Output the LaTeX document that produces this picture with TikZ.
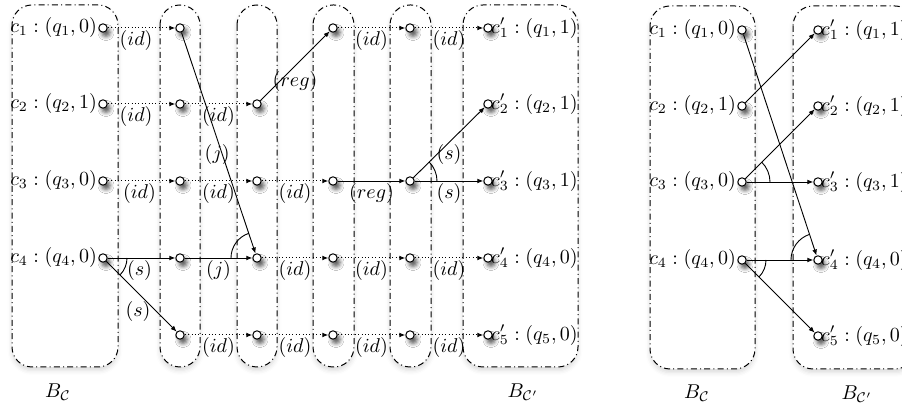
\documentclass[tikz,border=0pt]{standalone}
\usetikzlibrary{arrows.meta,shadows.blur}
\begin{document}
\begin{tikzpicture}[x=0.5pt,y=0.5pt,
  st/.style={circle,draw,fill=white,inner sep=0pt,minimum size=4.2pt,line width=0.5pt,
    blur shadow={shadow xshift=1.5pt,shadow yshift=-2.2pt,shadow blur radius=2pt,shadow opacity=65}},
  grp/.style={draw,line width=0.5pt,dash pattern=on 3pt off 1.6pt on 0.5pt off 1.6pt,rounded corners=10pt,fill=white,
    blur shadow={shadow xshift=0pt,shadow yshift=-1.8pt,shadow blur radius=2.2pt,shadow opacity=14}},
  tip/.style={-{Latex[length=3pt,width=2.4pt]}},
  idl/.style={tip,line width=0.5pt,dash pattern=on 0.5pt off 1.2pt},
  tr/.style={tip,line width=0.45pt},
  lab/.style={inner sep=1pt},
  lt/.style={anchor=east,inner sep=0.5pt},
  rt/.style={anchor=west,inner sep=0pt,xshift=-1pt},
  ang/.style={line width=0.45pt}
]
\clip (0,0) rectangle (902,-410);
\useasboundingbox (0,0) rectangle (902,-410);

% ---------------- groups (left diagram)
\path[grp] (12,-5) rectangle (118,-367);
\path[grp] (160,-5) rectangle (200,-367);
\path[grp] (237,-5) rectangle (277,-367);
\path[grp] (313,-5) rectangle (354,-367);
\path[grp] (390,-5) rectangle (431,-367);
\path[grp] (463,-5) rectangle (578,-367);
% ---------------- groups (right diagram)
\path[grp] (650,-6) rectangle (755,-369);
\path[grp] (793,-6) rectangle (915,-369);

% ---------------- states (left diagram)
\node[st] (a01) at (103,-28) {};
\node[st] (a02) at (103,-104) {};
\node[st] (a03) at (103,-181) {};
\node[st] (a04) at (103,-258) {};

\node[st] (a11) at (180,-28) {};
\node[st] (a12) at (180,-104) {};
\node[st] (a13) at (180,-181) {};
\node[st] (a14) at (180,-258) {};
\node[st] (a15) at (180,-335) {};

\node[st] (a22) at (257,-104) {};
\node[st] (a23) at (257,-181) {};
\node[st] (a24) at (257,-258) {};
\node[st] (a25) at (257,-335) {};

\node[st] (a31) at (333,-28) {};
\node[st] (a33) at (333,-181) {};
\node[st] (a34) at (333,-258) {};
\node[st] (a35) at (333,-335) {};

\node[st] (a41) at (410,-28) {};
\node[st] (a43) at (410,-181) {};
\node[st] (a44) at (410,-258) {};
\node[st] (a45) at (410,-335) {};

\node[st] (a51) at (488,-28) {};
\node[st] (a52) at (488,-104) {};
\node[st] (a53) at (488,-181) {};
\node[st] (a54) at (488,-258) {};
\node[st] (a55) at (488,-335) {};

\node[lt] (t01) at (a01.west) {$c_1 : (q_1,0)$};
\node[lt] (t02) at (a02.west) {$c_2 : (q_2,1)$};
\node[lt] (t03) at (a03.west) {$c_3 : (q_3,0)$};
\node[lt] (t04) at (a04.west) {$c_4 : (q_4,0)$};
\node[rt] (t51) at (a51.east) {$c'_1 : (q_1,1)$};
\node[rt] (t52) at (a52.east) {$c'_2 : (q_2,1)$};
\node[rt] (t53) at (a53.east) {$c'_3 : (q_3,1)$};
\node[rt] (t54) at (a54.east) {$c'_4 : (q_4,0)$};
\node[rt] (t55) at (a55.east) {$c'_5 : (q_5,0)$};

% ---------------- transitions (left diagram)
\draw[idl] (a01) -- node[pos=0.42,below,lab] {$(id)$} (a11);
\draw[idl] (a02) -- node[pos=0.42,below,lab] {$(id)$} (a12);
\draw[idl] (a03) -- node[pos=0.47,below,lab] {$(id)$} (a13);
\draw[tr] (a04) -- node[pos=0.47,below,lab] {$(s)$} (a14);
\draw[tr] (a04) -- node[pos=0.72,left=2pt,lab] {$(s)$} (a15);

\draw[tr] (a11) -- node[pos=0.55,xshift=-2.5pt,lab] {$(j)$} (a24);
\draw[idl] (a12) -- node[midway,below,lab] {$(id)$} (a22);
\draw[idl] (a13) -- node[midway,below,lab] {$(id)$} (a23);
\draw[tr] (a14) -- node[midway,below,lab] {$(j)$} (a24);
\draw[idl] (a15) -- node[midway,below,lab] {$(id)$} (a25);

\draw[tr] (a22) -- node[midway,below=1.5pt,lab] {$(reg)$} (a31);
\draw[idl] (a23) -- node[midway,below,lab] {$(id)$} (a33);
\draw[idl] (a24) -- node[midway,below,lab] {$(id)$} (a34);
\draw[idl] (a25) -- node[midway,below,lab] {$(id)$} (a35);

\draw[idl] (a31) -- node[midway,below,lab] {$(id)$} (a41);
\draw[tr] (a33) -- node[midway,below,lab] {$(reg)$} (a43);
\draw[idl] (a34) -- node[midway,below,lab] {$(id)$} (a44);
\draw[idl] (a35) -- node[midway,below,lab] {$(id)$} (a45);

\draw[idl] (a41) -- node[midway,below,lab] {$(id)$} (a51);
\draw[tr] (a43) -- node[midway,below,lab] {$(s)$} (a52);
\draw[tr] (a43) -- node[midway,below,lab] {$(s)$} (a53);
\draw[idl] (a44) -- node[midway,below,lab] {$(id)$} (a54);
\draw[idl] (a45) -- node[midway,below,lab] {$(id)$} (a55);

% angle marks (left)
\draw[ang] ([shift={(0:12pt)}]a04.center) arc[start angle=0,end angle=-45,radius=12pt];
\draw[ang] ([shift={(108.4:13pt)}]a24.center) arc[start angle=108.4,end angle=180,radius=13pt];
\draw[ang] ([shift={(0:13.5pt)}]a43.center) arc[start angle=0,end angle=45,radius=13.5pt];

% ---------------- states (right diagram)
\node[st] (b01) at (742,-30) {};
\node[st] (b02) at (742,-106) {};
\node[st] (b03) at (742,-182) {};
\node[st] (b04) at (742,-260) {};
\node[st] (b51) at (818,-30) {};
\node[st] (b52) at (818,-106) {};
\node[st] (b53) at (818,-182) {};
\node[st] (b54) at (818,-260) {};
\node[st] (b55) at (818,-336) {};

\node[lt] (u01) at (b01.west) {$c_1 : (q_1,0)$};
\node[lt] (u02) at (b02.west) {$c_2 : (q_2,1)$};
\node[lt] (u03) at (b03.west) {$c_3 : (q_3,0)$};
\node[lt] (u04) at (b04.west) {$c_4 : (q_4,0)$};
\node[rt] (u51) at (b51.east) {$c'_1 : (q_1,1)$};
\node[rt] (u52) at (b52.east) {$c'_2 : (q_2,1)$};
\node[rt] (u53) at (b53.east) {$c'_3 : (q_3,1)$};
\node[rt] (u54) at (b54.east) {$c'_4 : (q_4,0)$};
\node[rt] (u55) at (b55.east) {$c'_5 : (q_5,0)$};

\draw[tr] (b01) -- (b54);
\draw[tr] (b02) -- (b51);
\draw[tr] (b03) -- (b52);
\draw[tr] (b03) -- (b53);
\draw[tr] (b04) -- (b54);
\draw[tr] (b04) -- (b55);

\draw[ang] ([shift={(0:14pt)}]b03.center) arc[start angle=0,end angle=45,radius=14pt];
\draw[ang] ([shift={(0:12pt)}]b04.center) arc[start angle=0,end angle=-45,radius=12pt];
\draw[ang] ([shift={(108.3:13.5pt)}]b54.center) arc[start angle=108.3,end angle=180,radius=13.5pt];

% ---------------- group names
\node (n1) at (58,-392) {$B_{\mathcal{C}}$};
\node (n2) at (523,-392) {$B_{\mathcal{C}'}$};
\node (n3) at (697,-393) {$B_{\mathcal{C}}$};
\node (n4) at (857,-394) {$B_{\mathcal{C}'}$};
\end{tikzpicture}
\end{document}
